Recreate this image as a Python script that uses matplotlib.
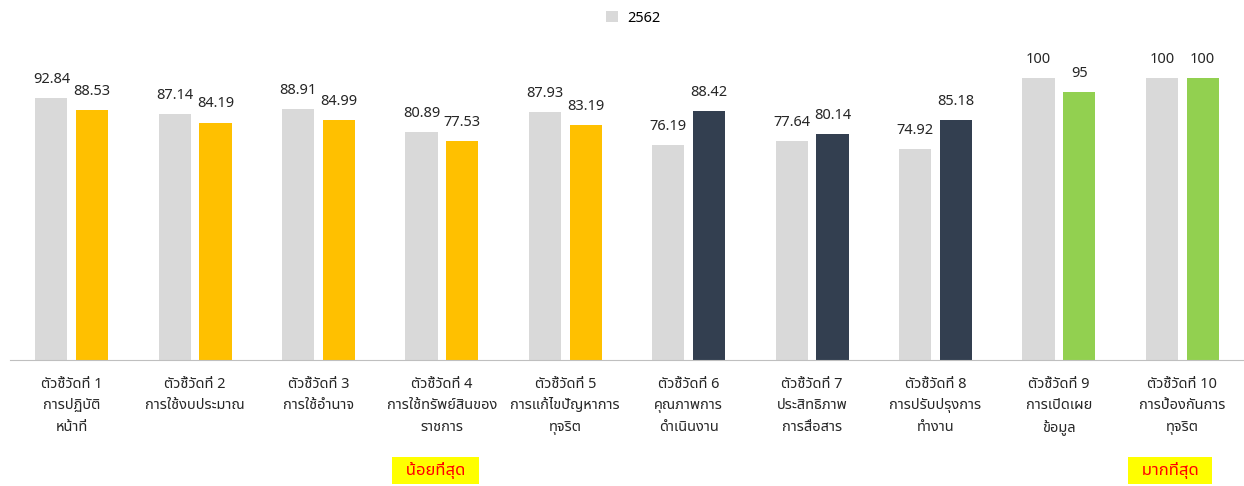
import numpy as np
import matplotlib
matplotlib.use('Agg')
import matplotlib.pyplot as plt
from matplotlib import font_manager
from matplotlib.ft2font import FT2Font
################################################################################################
categories = ['ตัวชี้วัดที่ 1\nการปฏิบัติ\nหน้าที่',
              'ตัวชี้วัดที่ 2\nการใช้งบประมาณ',
              'ตัวชี้วัดที่ 3\nการใช้อำนาจ',
              'ตัวชี้วัดที่ 4\nการใช้ทรัพย์สินของ\nราชการ',
              'ตัวชี้วัดที่ 5\nการแก้ไขปัญหาการ\nทุจริต',
              'ตัวชี้วัดที่ 6\nคุณภาพการ\nดำเนินงาน',
              'ตัวชี้วัดที่ 7\nประสิทธิภาพ\nการสื่อสาร',
              'ตัวชี้วัดที่ 8\nการปรับปรุงการ\nทำงาน',
              'ตัวชี้วัดที่ 9\nการเปิดเผย\nข้อมูล',
              'ตัวชี้วัดที่ 10\nการป้องกันการ\nทุจริต']
score_2562 = [92.84, 87.14, 88.91, 80.89, 87.93, 76.19, 77.64, 74.92, 100, 100]
score_2563 = [88.53, 84.19, 84.99, 77.53, 83.19, 88.42, 80.14, 85.18, 95, 100]
colors_2563 = ['#FFC000'] * 5 + ['#333F50'] * 3 + ['#92D050'] * 2
note_min = 'น้อยที่สุด'
note_max = 'มากที่สุด'
################################################################################################
def thai_font():
    # look for any installed font that has thai glyphs
    found = []
    for f in font_manager.fontManager.ttflist:
        try:
            cmap = FT2Font(f.fname).get_charmap()
        except Exception:
            continue
        if 0x0E01 in cmap and 0x0E49 in cmap:
            found.append(f.name)
    for pref in ['Tahoma', 'Noto Sans Thai', 'Noto Sans Thai UI', 'Loma', 'Garuda', 'Norasi']:
        if pref in found:
            return pref
    if found:
        return found[0]
    return None

tf = thai_font()
fams = ['DejaVu Sans']
if tf:
    fams = [tf, 'DejaVu Sans']
plt.rcParams['font.family'] = fams

def fmt(v):
    if v == int(v):
        return str(int(v))
    return '%.2f' % v
################################################################################################
fig = plt.figure(figsize=(12.44, 4.86), dpi=100)
ax = fig.add_axes([10 / 1244, 126 / 486, 1 - 10 / 1244, (360 - 49.8) / 486])

x = np.arange(len(categories))
w = 0.26
b1 = ax.bar(x - 0.165, score_2562, w, color='#D9D9D9', label='2562')
b2 = ax.bar(x + 0.165, score_2563, w, color=colors_2563)

for bars, vals in [(b1, score_2562), (b2, score_2563)]:
    for r, v in zip(bars, vals):
        ax.annotate(fmt(v), (r.get_x() + r.get_width() / 2, r.get_height()),
                    xytext=(0, 8), textcoords='offset points',
                    ha='center', va='bottom', fontsize=10.5, color='#262626')

ax.set_xlim(-0.5, len(categories) - 0.5)
ax.set_ylim(0, 110)
ax.set_yticks([])
ax.set_xticks(x)
ax.set_xticklabels(categories, fontsize=10.5, color='#262626', linespacing=1.6)
ax.tick_params(axis='x', length=0, pad=12)
for s in ['top', 'right', 'left']:
    ax.spines[s].set_visible(False)
ax.spines['bottom'].set_color('#BFBFBF')

ax.text(3 - 0.05, -0.355, '  ' + note_min + '  ', transform=ax.get_xaxis_transform(),
        ha='center', va='center', fontsize=12, fontweight='bold', color='#FF0000',
        bbox=dict(boxstyle='square,pad=0.3', fc='#FFFF00', ec='none'))
ax.text(9 - 0.1, -0.355, '  ' + note_max + '  ', transform=ax.get_xaxis_transform(),
        ha='center', va='center', fontsize=12, fontweight='bold', color='#FF0000',
        bbox=dict(boxstyle='square,pad=0.3', fc='#FFFF00', ec='none'))

fig.legend(loc='upper center', bbox_to_anchor=(0.509, 1.005), frameon=False,
           fontsize=10.5, handlelength=0.8, handleheight=0.8, handletextpad=0.6)

plt.savefig('out.png', dpi=100)
